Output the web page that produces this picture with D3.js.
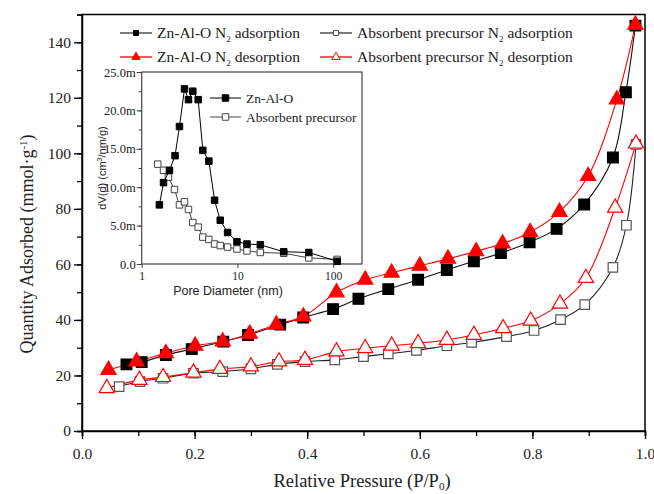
<!DOCTYPE html>
<html>
<head>
<meta charset="utf-8">
<script src="https://cdn.jsdelivr.net/npm/d3@7"></script>
<style>
body { margin: 0; background: #fff; }
text { font-family: "Liberation Serif", "Times New Roman", serif; }
.sans { font-family: "Liberation Sans", Arial, sans-serif; }
</style>
</head>
<body>
<script>
// main isotherm data (P/P0, quantity adsorbed)
var znAdsP = [0.079, 0.106, 0.149, 0.195, 0.251, 0.295, 0.352, 0.393, 0.446, 0.491, 0.544, 0.597, 0.648, 0.696, 0.744, 0.795, 0.843, 0.892, 0.943, 0.966, 0.983];
var znAdsQ = [24.0, 24.8, 27.4, 29.5, 32.2, 34.6, 38.3, 40.9, 43.9, 47.6, 51.1, 54.5, 58.0, 61.1, 64.1, 68.0, 72.8, 81.6, 98.5, 122.0, 146.0];
var znDesP = [0.047, 0.097, 0.149, 0.201, 0.250, 0.298, 0.345, 0.393, 0.452, 0.503, 0.550, 0.600, 0.650, 0.700, 0.747, 0.796, 0.848, 0.899, 0.950, 0.983];
var znDesQ = [22.0, 25.0, 28.0, 30.7, 32.2, 35.0, 38.3, 41.2, 49.9, 54.5, 57.0, 59.5, 62.0, 64.7, 67.5, 71.6, 78.9, 91.8, 119.4, 146.3];
var prAdsP = [0.066, 0.103, 0.144, 0.198, 0.250, 0.300, 0.347, 0.396, 0.449, 0.500, 0.544, 0.594, 0.648, 0.692, 0.754, 0.803, 0.850, 0.893, 0.943, 0.967, 0.984];
var prAdsQ = [16.0, 17.8, 19.0, 20.8, 21.4, 22.4, 24.0, 25.0, 25.6, 26.8, 27.8, 29.0, 30.7, 31.9, 34.0, 36.2, 40.1, 45.5, 58.9, 74.1, 103.2];
var prDesP = [0.044, 0.102, 0.144, 0.198, 0.245, 0.300, 0.350, 0.396, 0.452, 0.503, 0.550, 0.597, 0.648, 0.696, 0.748, 0.797, 0.849, 0.895, 0.947, 0.984];
var prDesQ = [15.4, 18.4, 19.4, 21.0, 22.3, 23.2, 25.0, 25.6, 28.6, 29.8, 30.7, 31.6, 32.8, 34.6, 37.0, 39.7, 45.8, 55.1, 80.4, 103.5];

// inset pore size distribution (nm, dV(d) in milli-units)
var znPoreD = [1.53, 1.69, 1.95, 2.23, 2.48, 2.80, 3.08, 3.42, 3.89, 4.35, 5.03, 5.77, 6.61, 7.89, 9.88, 12.57, 17.34, 30.4, 55.6, 110];
var znPoreV = [7.7, 10.6, 12.2, 14.1, 17.9, 22.8, 21.4, 22.5, 21.4, 14.8, 13.4, 8.3, 5.7, 4.1, 2.9, 2.6, 2.5, 1.6, 1.5, 0.35];
var prPoreD = [1.47, 1.69, 1.90, 2.20, 2.48, 2.80, 3.08, 3.42, 3.89, 4.35, 5.03, 5.77, 6.61, 7.89, 9.88, 12.57, 17.34, 30.4, 55.6, 110];
var prPoreV = [13.0, 12.2, 11.3, 9.7, 7.7, 8.1, 7.1, 5.4, 4.8, 3.5, 3.2, 2.6, 2.4, 2.2, 1.95, 1.7, 1.5, 1.4, 0.8, 0.6];

var xTicks = [0, 0.2, 0.4, 0.6, 0.8, 1.0];
var yTicks = [0, 20, 40, 60, 80, 100, 120, 140];
var insetYTicks = [0, 5, 10, 15, 20, 25];
var insetXTicks = [1, 10, 100];

var width = 654, height = 494;

var svg = d3.select("body").append("svg")
    .attr("width", width)
    .attr("height", height);

var x = d3.scaleLinear().domain([0, 1]).range([82, 645]);
var y = d3.scaleLinear().domain([0, 150]).range([431, 14.5]);

function zip(a, b) { return a.map(function(v, i) { return [v, b[i]]; }); }

// frame
svg.append("rect")
    .attr("x", x(0)).attr("y", y(150))
    .attr("width", x(1) - x(0)).attr("height", y(0) - y(150))
    .attr("fill", "none").attr("stroke", "#000").attr("stroke-width", 1.5);

var xAxis = svg.append("g")
    .attr("transform", "translate(0," + y(0) + ")")
    .call(d3.axisBottom(x).tickValues(d3.range(0, 1.01, 0.1)).tickSize(5).tickFormat(""));
xAxis.selectAll("line").attr("stroke-width", 1.3);
xAxis.select(".domain").attr("stroke-width", 1.5);
svg.append("g")
    .attr("transform", "translate(0," + y(0) + ")")
    .call(d3.axisBottom(x).tickValues(xTicks).tickSize(8).tickFormat(d3.format(".1f")))
    .call(function(g) {
	g.select(".domain").remove();
	g.selectAll("line").attr("stroke-width", 1.3);
	g.selectAll("text").attr("font-size", 15.5).attr("font-family", "Liberation Serif").attr("dy", "1.1em").attr("fill", "#222");
    });

var yAxis = svg.append("g")
    .attr("transform", "translate(" + x(0) + ",0)")
    .call(d3.axisLeft(y).tickValues(d3.range(0, 151, 10)).tickSize(5).tickFormat(""));
yAxis.selectAll("line").attr("stroke-width", 1.3);
yAxis.select(".domain").attr("stroke-width", 1.5);
svg.append("g")
    .attr("transform", "translate(" + x(0) + ",0)")
    .call(d3.axisLeft(y).tickValues(yTicks).tickSize(8))
    .call(function(g) {
	g.select(".domain").remove();
	g.selectAll("line").attr("stroke-width", 1.3);
	g.selectAll("text").attr("font-size", 15.5).attr("font-family", "Liberation Serif").attr("x", -11).attr("fill", "#222");
    });

// axis titles
var xt = svg.append("text")
    .attr("x", 362).attr("y", 487)
    .attr("text-anchor", "middle")
    .attr("font-size", 18.5).attr("fill", "#222");
xt.append("tspan").text("Relative Pressure (P/P");
xt.append("tspan").attr("dy", 3).attr("font-size", 11).text("0");
xt.append("tspan").attr("dy", -3).text(")");

var yt = svg.append("text")
    .attr("transform", "translate(33,244) rotate(-90)")
    .attr("text-anchor", "middle")
    .attr("font-size", 18).attr("fill", "#222");
yt.append("tspan").text("Quantity Adsorbed (mmol\u00b7g");
yt.append("tspan").attr("dy", -6).attr("font-size", 11).text("-1");
yt.append("tspan").attr("dy", 6).text(")");

// isotherm curves
var line = d3.line()
    .x(function(d) { return x(d[0]); })
    .y(function(d) { return y(d[1]); })
    .curve(d3.curveCatmullRom.alpha(0.5));

var series = [
    {data: zip(prAdsP, prAdsQ), color: "#222", marker: "square", fill: "#fff", stroke: "#555"},
    {data: zip(prDesP, prDesQ), color: "#f00", marker: "triangle", fill: "#fff", stroke: "#f00"},
    {data: zip(znAdsP, znAdsQ), color: "#111", marker: "square", fill: "#000", stroke: "#000"},
    {data: zip(znDesP, znDesQ), color: "#f00", marker: "triangle", fill: "#f00", stroke: "#f00"}
];

series.forEach(function(s) {
    svg.append("path")
	.attr("d", line(s.data))
	.attr("fill", "none")
	.attr("stroke", s.color)
	.attr("stroke-width", 1.1);
});

var sqSym = d3.symbol().type(d3.symbolSquare).size(115);
var triSym = d3.symbol().type(d3.symbolTriangle).size(100);
var sqOpen = d3.symbol().type(d3.symbolSquare).size(90);

series.forEach(function(s) {
    var sym = s.marker == "triangle" ? triSym : (s.fill == "#fff" ? sqOpen : sqSym);
    svg.append("g").selectAll("path")
	.data(s.data)
	.enter().append("path")
	.attr("d", sym)
	.attr("transform", function(d) { return "translate(" + x(d[0]) + "," + y(d[1]) + ")"; })
	.attr("fill", s.fill)
	.attr("stroke", s.stroke)
	.attr("stroke-width", 1.2);
});

// legend
var legendItems = [
    {label: "Zn-Al-O N", rest: " adsorption", s: series[2], lx: 120, ly: 33},
    {label: "Absorbent precursor N", rest: " adsorption", s: series[0], lx: 320, ly: 33},
    {label: "Zn-Al-O N", rest: " desorption", s: series[3], lx: 120, ly: 57},
    {label: "Absorbent precursor N", rest: " desorption", s: series[1], lx: 320, ly: 57}
];
var legSq = d3.symbol().type(d3.symbolSquare).size(25);
var legTri = d3.symbol().type(d3.symbolTriangle).size(30);

legendItems.forEach(function(it) {
    var g = svg.append("g");
    g.append("line")
	.attr("x1", it.lx).attr("x2", it.lx + 32)
	.attr("y1", it.ly).attr("y2", it.ly)
	.attr("stroke", it.s.color == "#f00" ? "#f00" : "#333").attr("stroke-width", 1.3);
    g.append("path")
	.attr("d", it.s.marker == "triangle" ? legTri : legSq)
	.attr("transform", "translate(" + (it.lx + 16) + "," + it.ly + ")")
	.attr("fill", it.s.fill).attr("stroke", it.s.stroke).attr("stroke-width", 1);
    var t = g.append("text")
	.attr("x", it.lx + 37).attr("y", it.ly + 5)
	.attr("font-size", 15.5).attr("fill", "#222");
    t.append("tspan").text(it.label);
    t.append("tspan").attr("dy", 4).attr("font-size", 9).text("2");
    t.append("tspan").attr("dy", -4).text(it.rest);
});

// inset
var ix = d3.scaleLog().domain([1, 200]).range([141.7, 362]);
var iy = d3.scaleLinear().domain([0, 25]).range([264, 72]);

var inset = svg.append("g");
inset.append("rect")
    .attr("x", ix(1)).attr("y", iy(25))
    .attr("width", ix(200) - ix(1)).attr("height", iy(0) - iy(25))
    .attr("fill", "#fff").attr("stroke", "#444").attr("stroke-width", 1.2);

inset.append("g")
    .attr("transform", "translate(" + ix(1) + ",0)")
    .call(d3.axisLeft(iy).tickValues(d3.range(0, 25.1, 2.5)).tickSize(3).tickFormat(""))
    .call(function(g) { g.select(".domain").remove(); g.selectAll("line").attr("stroke", "#444"); });
inset.append("g")
    .attr("transform", "translate(" + ix(1) + ",0)")
    .call(d3.axisLeft(iy).tickValues(insetYTicks).tickSize(5)
	  .tickFormat(function(d) { return d == 0 ? "0.0" : d3.format(".1f")(d) + "m"; }))
    .call(function(g) {
	g.select(".domain").remove();
	g.selectAll("line").attr("stroke", "#444");
	g.selectAll("text").attr("font-size", 12.5).attr("font-family", "Liberation Serif").attr("x", -6).attr("fill", "#222");
    });

inset.append("g")
    .attr("transform", "translate(0," + iy(0) + ")")
    .call(d3.axisBottom(ix).tickValues(insetXTicks).tickSize(4).tickFormat(d3.format("d")))
    .call(function(g) {
	g.select(".domain").remove();
	g.selectAll("line").attr("stroke", "#444");
	g.selectAll("text").attr("font-size", 11.5).attr("font-family", "Liberation Sans").attr("dy", "0.8em").attr("fill", "#222");
    });

inset.append("text")
    .attr("class", "sans")
    .attr("x", 228).attr("y", 295)
    .attr("text-anchor", "middle")
    .attr("font-size", 12.5).attr("fill", "#222")
    .text("Pore Diameter (nm)");

var iyt = inset.append("text")
    .attr("class", "sans")
    .attr("transform", "translate(106,168) rotate(-90)")
    .attr("text-anchor", "middle")
    .attr("font-size", 11).attr("fill", "#222");
iyt.append("tspan").text("dV(d) (cm");
iyt.append("tspan").attr("dy", -4).attr("font-size", 7).text("3");
iyt.append("tspan").attr("dy", 4).text("/nm/g)");

var iline = d3.line()
    .x(function(d) { return ix(d[0]); })
    .y(function(d) { return iy(d[1]); });

var insetSeries = [
    {data: zip(prPoreD, prPoreV), fill: "#fff", stroke: "#444"},
    {data: zip(znPoreD, znPoreV), fill: "#000", stroke: "#000"}
];
var iSq = d3.symbol().type(d3.symbolSquare).size(42);

insetSeries.forEach(function(s) {
    inset.append("path")
	.attr("d", iline(s.data))
	.attr("fill", "none").attr("stroke", s.stroke).attr("stroke-width", 1);
    inset.append("g").selectAll("path")
	.data(s.data)
	.enter().append("path")
	.attr("d", iSq)
	.attr("transform", function(d) { return "translate(" + ix(d[0]) + "," + iy(d[1]) + ")"; })
	.attr("fill", s.fill).attr("stroke", s.stroke).attr("stroke-width", 1);
});

// inset legend
var insetLegend = [
    {label: "Zn-Al-O", s: insetSeries[1], ly: 98},
    {label: "Absorbent precursor", s: insetSeries[0], ly: 117}
];
insetLegend.forEach(function(it) {
    inset.append("line")
	.attr("x1", 210).attr("x2", 241)
	.attr("y1", it.ly).attr("y2", it.ly)
	.attr("stroke", it.s.stroke).attr("stroke-width", 1);
    inset.append("path")
	.attr("d", iSq)
	.attr("transform", "translate(225.5," + it.ly + ")")
	.attr("fill", it.s.fill).attr("stroke", it.s.stroke);
    inset.append("text")
	.attr("x", 246).attr("y", it.ly + 5)
	.attr("font-size", 13.5).attr("fill", "#222")
	.text(it.label);
});
</script>
</body>
</html>
